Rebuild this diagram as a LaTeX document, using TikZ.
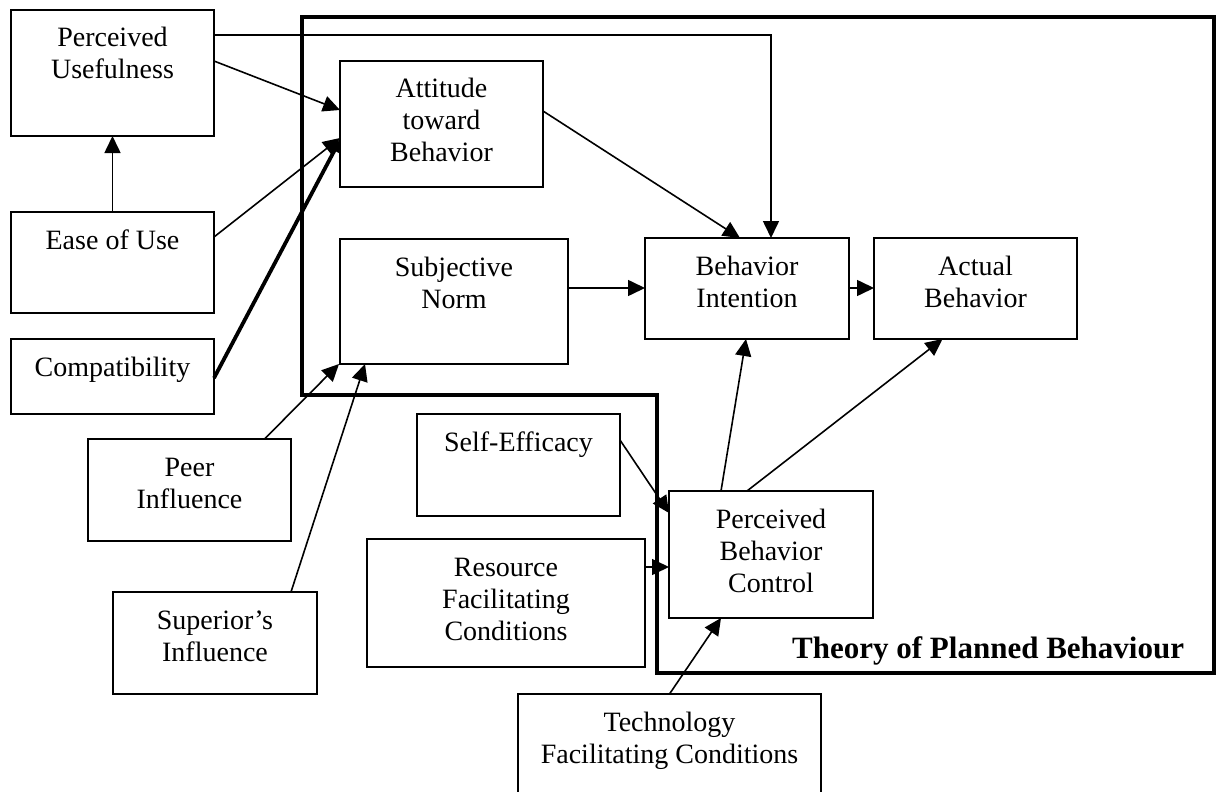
\documentclass[tikz,border=0pt]{standalone}
\usepackage{fontspec}
\setmainfont{Liberation Serif}
\usetikzlibrary{arrows.meta}

% multi-line label whose reference point is the baseline of the first line
\newcommand{\boxtext}[1]{\begin{tabular}[t]{@{}c@{}}#1\end{tabular}}

% box from (x1,y1) to (x2,y2) with its text set near the top
\newcommand{\mkbox}[6]{%
  \node[box, minimum width={#4-#2}, minimum height={#5-#3}] (#1) at ({(#2+#4)/2},{(#3+#5)/2}) {};
  \node[txt] (#1-t) at ({(#2+#4)/2},{#3+37}) {\boxtext{#6}};
}

\begin{document}
\begin{tikzpicture}[x=1pt, y=-1pt,
  box/.style={draw, line width=1.8pt, rectangle, inner sep=0pt, outer sep=0pt},
  txt/.style={anchor=base, inner sep=0pt, font=\fontsize{28}{32}\selectfont},
  arr/.style={line width=1.6pt, -{Triangle[length=17pt,width=16pt]}},
  thickarr/.style={line width=3.8pt, -{Triangle[length=12pt,width=11pt]}},
  frame/.style={line width=4pt, line join=miter},
  title/.style={anchor=base west, inner sep=0pt, font=\fontsize{31}{36}\selectfont\bfseries}]

\useasboundingbox (0,0) rectangle (1219,792);
\clip (0,0) rectangle (1219,792);

% Theory of Planned Behaviour frame
\draw[frame] (302,17) -- (1214,17) -- (1214,673) -- (657,673) -- (657,395) -- (302,395) -- cycle;
\node[title] (tpb) at (792,658) {Theory of Planned Behaviour};

% boxes
\mkbox{pu}{11}{10}{214}{136}{Perceived\\Usefulness}
\mkbox{eou}{11}{212}{214}{313}{Ease of Use}
\mkbox{comp}{11}{339}{214}{414}{Compatibility}
\mkbox{att}{340}{61}{543}{187}{Attitude\\toward\\Behavior}
\mkbox{sn}{340}{239}{568}{364}{Subjective\\Norm}
\mkbox{bi}{645}{238}{849}{339}{Behavior\\Intention}
\mkbox{ab}{874}{238}{1077}{339}{Actual\\Behavior}
\mkbox{se}{417}{414}{620}{516}{Self-Efficacy}
\mkbox{pbc}{669}{491}{873}{618}{Perceived\\Behavior\\Control}
\mkbox{rfc}{367}{539}{645}{667}{Resource\\Facilitating\\Conditions}
\mkbox{peer}{88}{439}{291}{541}{Peer\\Influence}
\mkbox{sup}{113}{592}{317}{694}{Superior’s\\Influence}
\mkbox{tech}{518}{694}{821}{810}{Technology\\Facilitating Conditions}

% connectors
\draw[arr] ([yshift=-25pt]pu.north east) -| ([xshift=24pt]bi.north);
\draw[arr] ([yshift=-51pt]pu.north east) -- ([yshift=-49pt]att.north west);
\draw[arr] (eou.north) -- (pu.south);
\draw[arr] ([yshift=-25pt]eou.north east) -- ([yshift=-77pt]att.north west);
\draw[thickarr] ([yshift=-39pt]comp.north east) -- ([yshift=-79pt]att.north west);
\draw[arr] ([yshift=-50pt]att.north east) -- ([xshift=-7pt]bi.north);
\draw[arr] ([yshift=-49pt]sn.north east) coordinate (snout) -- (snout -| bi.west);
\draw[arr] ([yshift=-50pt]bi.north east) coordinate (biout) -- (biout -| ab.west);
\draw[arr] ([xshift=-50pt]pbc.north) -- ([xshift=-1pt]bi.south);
\draw[arr] ([xshift=-24pt]pbc.north) -- ([xshift=-33pt]ab.south);
\draw[arr] ([yshift=-26pt]se.north east) -- ([yshift=-22pt]pbc.north west);
\draw[arr] ([yshift=-28pt]rfc.north east) coordinate (rfcout) -- (rfcout -| pbc.west);
\draw[arr] (tech.north) -- ([xshift=-50pt]pbc.south);
\draw[arr] ([xshift=75pt]peer.north) -- ([xshift=-1pt]sn.south west);
\draw[arr] ([xshift=76pt]sup.north) -- ([xshift=25pt]sn.south west);

\end{tikzpicture}
\end{document}
